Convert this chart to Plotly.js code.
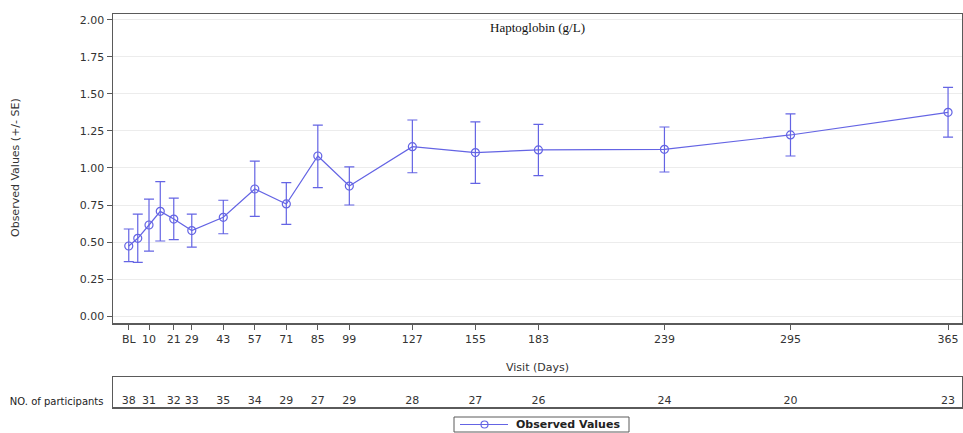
<!DOCTYPE html>
<html>
<head>
<meta charset="utf-8">
<script src="https://cdn.plot.ly/plotly-3.0.1.min.js"></script>
<style>html,body{margin:0;padding:0;background:#fff;}#chart{width:963px;height:433px;}</style>
</head>
<body>
<div id="chart"></div>
<script>
// Data
const days = [1, 5, 10, 15, 21, 29, 43, 57, 71, 85, 99, 127, 155, 183, 239, 295, 365];
const meanValues = [0.473, 0.525, 0.615, 0.707, 0.655, 0.577, 0.667, 0.858, 0.757, 1.081, 0.878, 1.144, 1.104, 1.122, 1.126, 1.223, 1.376];
const upperSE = [0.588, 0.689, 0.790, 0.908, 0.797, 0.689, 0.782, 1.047, 0.901, 1.290, 1.007, 1.324, 1.311, 1.295, 1.277, 1.365, 1.545];
const lowerSE = [0.367, 0.363, 0.439, 0.507, 0.516, 0.466, 0.556, 0.673, 0.619, 0.867, 0.750, 0.968, 0.896, 0.948, 0.973, 1.081, 1.209];

const tickDays = [1, 10, 21, 29, 43, 57, 71, 85, 99, 127, 155, 183, 239, 295, 365];
const tickLabels = ['BL', '10', '21', '29', '43', '57', '71', '85', '99', '127', '155', '183', '239', '295', '365'];
const participants = [38, 31, 32, 33, 35, 34, 29, 27, 29, 28, 27, 26, 24, 20, 23];

const yTicks = [0, 0.25, 0.5, 0.75, 1.0, 1.25, 1.5, 1.75, 2.0];
const seriesName = 'Observed Values';

const lineColor = 'rgb(100,100,228)';
const frameColor = '#5a5a5a';
const font = 'DejaVu Sans, Verdana, sans-serif';

const errPlus = meanValues.map((v, i) => upperSE[i] - v);
const errMinus = meanValues.map((v, i) => v - lowerSE[i]);

const mainTrace = {
  x: days, y: meanValues,
  type: 'scatter', mode: 'lines+markers',
  name: seriesName, showlegend: false,
  line: {color: lineColor, width: 1.2},
  marker: {symbol: 'circle-open', size: 8, color: lineColor, line: {width: 1.2, color: lineColor}},
  error_y: {type: 'data', symmetric: false, array: errPlus, arrayminus: errMinus,
            color: lineColor, thickness: 1.2, width: 5},
  xaxis: 'x', yaxis: 'y',
  hoverinfo: 'x+y'
};

const tableTrace = {
  x: tickDays, y: tickDays.map(() => -0.6),
  type: 'scatter', mode: 'text',
  text: participants.map(String),
  textfont: {family: font, size: 11, color: '#333'},
  showlegend: false, hoverinfo: 'skip',
  xaxis: 'x2', yaxis: 'y2'
};

const xRange = [-6, 371.2];

// Plot-area geometry helpers (paper coordinates) for legend box
const W = 849, H = 393, L = 113, T = 14;
const px = x => (x - L) / W;
const py = y => (T + H - y) / H;

const layout = {
  width: 963, height: 433,
  margin: {l: 113, r: 1, t: 14, b: 26, autoexpand: false},
  paper_bgcolor: '#fff', plot_bgcolor: '#fff',
  font: {family: font, size: 11, color: '#333'},
  showlegend: false,
  xaxis: {
    domain: [0, 1], anchor: 'y',
    range: xRange, tickmode: 'array', tickvals: tickDays, ticktext: tickLabels,
    ticks: 'outside', ticklen: 5, tickcolor: frameColor, tickwidth: 1,
    showline: true, linecolor: frameColor, linewidth: 1.5, mirror: true,
    showgrid: false, zeroline: false,
    tickfont: {family: font, size: 11, color: '#333'},
    title: {text: 'Visit (Days)', font: {family: font, size: 11, color: '#333'}, standoff: 18}
  },
  yaxis: {
    domain: [0.2137, 1], anchor: 'x',
    range: [-0.047, 2.04], tickmode: 'array', tickvals: yTicks,
    ticktext: yTicks.map(v => v.toFixed(2)),
    ticks: 'outside', ticklen: 5, tickcolor: frameColor, tickwidth: 1,
    showline: true, linecolor: frameColor, linewidth: 1.5, mirror: true,
    showgrid: true, gridcolor: '#ececec', gridwidth: 1, zeroline: false,
    tickfont: {family: font, size: 11, color: '#333'}
  },
  xaxis2: {
    domain: [0, 1], anchor: 'y2', matches: 'x',
    range: xRange, showticklabels: false, ticks: '',
    showline: true, linecolor: frameColor, linewidth: 1.5, mirror: true,
    showgrid: false, zeroline: false
  },
  yaxis2: {
    domain: [0, 0.0763], anchor: 'x2',
    range: [-1, 1], tickmode: 'array', tickvals: [-0.6], ticktext: ['NO. of participants'],
    ticks: '', ticklabelstandoff: 6,
    showline: true, linecolor: frameColor, linewidth: 1.5, mirror: true,
    showgrid: false, zeroline: false, fixedrange: true,
    tickfont: {family: font, size: 10, color: '#222'}
  },
  shapes: [
    // legend frame
    {type: 'rect', xref: 'paper', yref: 'paper', x0: px(454), x1: px(629), y0: py(417), y1: py(432),
     line: {color: frameColor, width: 1}, fillcolor: '#fff'},
    // legend line sample
    {type: 'line', xref: 'paper', yref: 'paper', x0: px(460), x1: px(508), y0: py(424.5), y1: py(424.5),
     line: {color: lineColor, width: 1.2}},
    // legend marker sample
    {type: 'circle', xref: 'paper', yref: 'paper', x0: px(481), x1: px(488), y0: py(421), y1: py(428),
     line: {color: lineColor, width: 1.2}, fillcolor: 'rgba(0,0,0,0)'}
  ],
  annotations: [
    {text: 'Haptoglobin (g/L)', xref: 'paper', yref: 'paper',
     x: 0.5, y: py(18), xanchor: 'center', yanchor: 'top', showarrow: false,
     font: {family: 'Liberation Serif, Times New Roman, serif', size: 13, color: '#111'}},
    {text: 'Observed Values (+/- SE)', xref: 'paper', yref: 'paper', textangle: -90,
     x: px(16), y: py(168), xanchor: 'center', yanchor: 'middle', showarrow: false,
     font: {family: font, size: 11, color: '#333'}},
    {text: '<b>' + seriesName + '</b>', xref: 'paper', yref: 'paper',
     x: px(514), y: py(424.5), xanchor: 'left', yanchor: 'middle', showarrow: false,
     font: {family: font, size: 11, color: '#222'}}
  ]
};

Plotly.newPlot('chart', [mainTrace, tableTrace], layout, {displayModeBar: false, staticPlot: true});
</script>
</body>
</html>
